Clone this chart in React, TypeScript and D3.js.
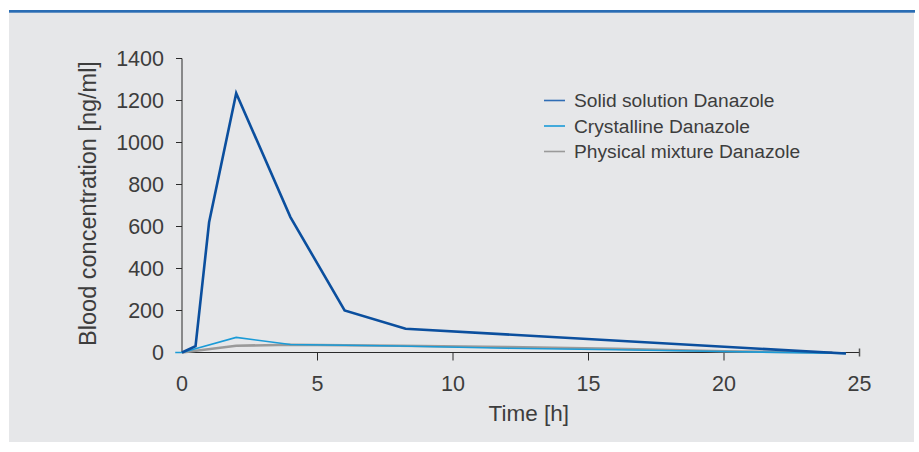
import React from "react";
import * as d3 from "d3";

// Pharmacokinetic profiles (time in hours, blood concentration in ng/ml)
const solidTime = [0, 0.5, 1, 2, 4, 6, 8.25, 24.5];
const solidConc = [0, 30, 620, 1235, 645, 200, 113, -5];

const crystTime = [-0.25, 0, 2, 4, 8, 12, 16, 20, 24.5];
const crystConc = [0, 0, 72, 38, 31, 20, 13, 5, -5];

const physTime = [0, 2, 4, 8, 12, 16, 20, 24];
const physConc = [0, 32, 37, 32, 26, 18, 6, 0];

const xTicks = [0, 5, 10, 15, 20, 25];
const yTicks = [0, 200, 400, 600, 800, 1000, 1200, 1400];

const seriesNames = [
  "Solid solution Danazole",
  "Crystalline Danazole",
  "Physical mixture Danazole",
];

const W = 919;
const H = 452;
const FONT = "'Liberation Sans', Arial, Helvetica, sans-serif";
const TEXT = "#3d3d3d";

const colors = {
  solid: "#0b4f9e",
  cryst: "#1b9bd7",
  phys: "#9a9a9a",
};

export default function App() {
  const x = d3.scaleLinear().domain([0, 25]).range([182, 859.5]);
  const y = d3.scaleLinear().domain([0, 1400]).range([352.5, 58.5]);

  const line = d3
    .line<[number, number]>()
    .x((d) => x(d[0]))
    .y((d) => y(d[1]));

  const zip = (t: number[], v: number[]) =>
    t.map((ti, i) => [ti, v[i]] as [number, number]);

  const series = [
    { name: seriesNames[2], color: colors.phys, width: 2.6, pts: zip(physTime, physConc) },
    { name: seriesNames[1], color: colors.cryst, width: 1.6, pts: zip(crystTime, crystConc) },
    { name: seriesNames[0], color: colors.solid, width: 2.6, pts: zip(solidTime, solidConc) },
  ];

  const legend = [
    { name: seriesNames[0], color: "#2f6db5" },
    { name: seriesNames[1], color: colors.cryst },
    { name: seriesNames[2], color: "#9a9a9a" },
  ];

  const axisY = y(0);
  const axisColor = "#2a2a2a";

  return (
    <svg
      width={W}
      height={H}
      style={{ position: "absolute", left: 0, top: 0, background: "#ffffff" }}
      fontFamily={FONT}
    >
      <rect x={9} y={12} width={905} height={430} fill="#e6e7e9" />
      <rect x={9} y={10} width={906} height={2.7} fill="#2a6db4" />

      {/* y axis */}
      <line x1={x(0)} x2={x(0)} y1={y(1400)} y2={axisY} stroke={axisColor} strokeWidth={1} />
      {yTicks.map((t) => (
        <g key={"y" + t}>
          <line x1={x(0) - 6} x2={x(0)} y1={y(t)} y2={y(t)} stroke={axisColor} strokeWidth={1} />
          <text
            x={164}
            y={y(t)}
            dy="0.36em"
            textAnchor="end"
            fontSize={21.5}
            fill={TEXT}
          >
            {t}
          </text>
        </g>
      ))}

      {/* x axis */}
      <line x1={x(0)} x2={x(25)} y1={axisY} y2={axisY} stroke={axisColor} strokeWidth={1} />
      {xTicks.map((t) => (
        <g key={"x" + t}>
          {t > 0 && t < 25 && (
            <line x1={x(t)} x2={x(t)} y1={axisY} y2={axisY + 8} stroke={axisColor} strokeWidth={1} />
          )}
          {t === 25 && (
            <line x1={x(t)} x2={x(t)} y1={axisY - 4} y2={axisY + 4} stroke="#555" strokeWidth={1.5} />
          )}
          <text x={x(t)} y={391} textAnchor="middle" fontSize={21.5} fill={TEXT}>
            {t}
          </text>
        </g>
      ))}

      {/* data lines */}
      {series.map((s) => (
        <path
          key={s.name}
          d={line(s.pts) || ""}
          fill="none"
          stroke={s.color}
          strokeWidth={s.width}
          strokeLinejoin="miter"
        />
      ))}

      {/* axis titles */}
      <text x={x(12.5) + 8} y={421} textAnchor="middle" fontSize={22.5} fill={TEXT}>
        Time [h]
      </text>
      <text
        transform={`translate(96, ${y(700) - 2}) rotate(-90)`}
        textAnchor="middle"
        fontSize={23.5}
        fill={TEXT}
      >
        Blood concentration [ng/ml]
      </text>

      {/* legend */}
      {legend.map((l, i) => (
        <g key={l.name} transform={`translate(544, ${100.5 + i * 25.5})`}>
          <line x1={0} x2={21} y1={0} y2={0} stroke={l.color} strokeWidth={1.6} />
          <text x={30} y={0} dy="0.36em" fontSize={19.2} fill={TEXT}>
            {l.name}
          </text>
        </g>
      ))}
    </svg>
  );
}
